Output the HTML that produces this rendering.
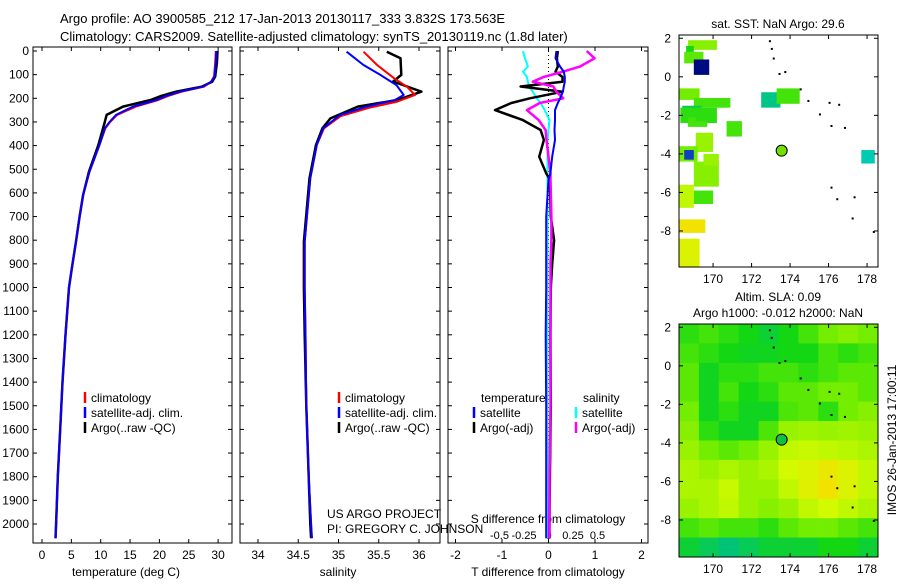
<!DOCTYPE html>
<html><head><meta charset="utf-8"><style>
body{margin:0;background:#fff;font-family:"Liberation Sans",sans-serif;}
svg text{font-family:"Liberation Sans",sans-serif;font-size:12px;fill:#000;}
</style></head><body>
<svg id="c" width="900" height="580" xmlns="http://www.w3.org/2000/svg">
<text x="60" y="23" style="font-size:13px">Argo profile: AO 3900585_212 17-Jan-2013 20130117_333 3.832S 173.563E</text>
<text x="60" y="41" style="font-size:13px">Climatology: CARS2009. Satellite-adjusted climatology: synTS_20130119.nc (1.8d later)</text>
<g id="g"></g>
</svg>
<script>
// ---------- data ----------
const depthT = [0,50,108,130,151,172,190,207,235,270,300,327,397,510,609,700,806,900,1000,1200,1400,1600,1800,2000,2060];
const tempClim = [29.6,29.5,29.3,28.8,27.6,23.8,21.5,19.8,16.0,12.8,11.6,10.8,9.8,8.1,7.0,6.4,5.8,5.2,4.6,4,3.5,3.1,2.7,2.4,2.3];
const tempSat  = [29.7,29.6,29.4,28.8,27.4,23.5,21.2,19.5,15.5,12.6,11.5,10.7,9.8,8.1,7.0,6.4,5.8,5.2,4.6,4,3.5,3.1,2.7,2.4,2.3];
const tempArgo = [29.9,29.8,29.5,29.0,27.2,22.8,20.3,18.5,13.8,11.0,10.7,10.4,9.6,8.0,7.0,6.4,5.8,5.2,4.6,4,3.5,3.1,2.7,2.4,2.3];
const depthSsat = [3,59,101,144,186,207,235,270,327,397,538,806,1000,1200,1500,1800,2000,2060];
const salSat  = [35.10,35.31,35.52,35.72,35.81,35.70,35.35,35.02,34.81,34.73,34.65,34.58,34.58,34.59,34.6,34.63,34.66,34.67];
const depthSclim = [3,59,115,151,186,214,240,275,327,397,538,806,1000,1200,1500,1800,2000,2060];
const salClim = [35.31,35.48,35.69,35.85,35.95,35.73,35.38,35.03,34.82,34.73,34.65,34.58,34.58,34.59,34.6,34.63,34.66,34.67];
const depthSargo = [3,31,101,129,172,207,235,285,327,397,538,806,1000,1200,1500,1800,2000,2060];
const salArgo = [35.6,35.77,35.78,35.68,36.03,35.73,35.24,34.9,34.8,34.72,34.64,34.57,34.57,34.58,34.6,34.63,34.65,34.66];
const depthD = [0,31,66,87,110,130,150,172,200,220,250,292,334,376,447,517,545,700,800,900,1000,1200,1500,1800,2000,2060];
const dTsat  = [0.17,0.15,0.25,0.33,0.35,0.35,0.33,0.31,0.25,0.2,0.14,0.14,0.13,0.14,0.08,0.04,0.0,-0.05,-0.05,-0.05,-0.05,-0.06,-0.05,-0.05,-0.05,-0.05];
const dTargo = [0.2,0.18,0.2,0.15,0.3,0.3,-0.6,0.3,-0.4,-0.8,-1.15,-0.55,-0.17,-0.1,-0.2,-0.05,0.03,0.05,0.12,0.08,0.05,0.04,0.05,0.03,0.02,0.02];
const dSsat  = [-0.26,-0.24,-0.21,-0.26,-0.22,-0.21,-0.2,-0.16,-0.12,-0.08,-0.04,0.01,0.0,-0.01,-0.01,-0.01,-0.01,-0.01,-0.01,-0.01,-0.01,-0.01,-0.01,-0.01,-0.01,-0.01];
const dSargo = [0.39,0.47,0.32,0.15,-0.05,-0.16,0.05,0.08,0.15,-0.09,-0.22,-0.1,-0.03,-0.02,0.0,0.02,0.02,0.03,0.03,0.02,0.02,0.02,0.02,0.01,0.01,0.01];
const depthTicks = [0,100,200,300,400,500,600,700,800,900,1000,1100,1200,1300,1400,1500,1600,1700,1800,1900,2000];
const tempTicks = [0,5,10,15,20,25,30];
const salTicks = [34,34.5,35,35.5,36];
const salTickLabels = ["34","34.5","35","35.5","36"];
const tdTicks = [-2,-1,0,1,2];
const sdTicks = [-0.5,-0.25,0,0.25,0.5];
const lonTicks = [170,172,174,176,178];
const latTicks = [2,0,-2,-4,-6,-8];
const argoLon = 173.563, argoLat = -3.832;
const slaGrid = [
[0.35,0.4,0.35,0.3,0.25,0.3,0.4,0.5,0.55,0.5],
[0.4,0.35,0.3,0.28,0.28,0.3,0.3,0.4,0.35,0.4],
[0.45,0.28,0.35,0.35,0.4,0.4,0.35,0.4,0.45,0.45],
[0.45,0.28,0.4,0.3,0.35,0.45,0.45,0.5,0.5,0.45],
[0.5,0.28,0.35,0.28,0.28,0.42,0.45,0.35,0.5,0.55],
[0.55,0.35,0.28,0.28,0.42,0.6,0.62,0.6,0.62,0.6],
[0.6,0.5,0.45,0.5,0.6,0.7,0.72,0.7,0.68,0.65],
[0.65,0.6,0.65,0.6,0.65,0.75,0.8,0.88,0.8,0.7],
[0.65,0.65,0.72,0.6,0.6,0.7,0.82,0.92,0.8,0.7],
[0.6,0.65,0.7,0.6,0.55,0.6,0.7,0.75,0.7,0.65],
[0.4,0.45,0.4,0.4,0.35,0.45,0.5,0.5,0.45,0.4],
[0.25,0.2,0.15,0.2,0.25,0.25,0.25,0.3,0.3,0.25]];
const sstLon = [168.7,168.6,168.5,169.0,168.2,169.0,168.4,170.2,168.3,168.7,169.1,170.7,169.1,168.2,168.5,169.0,169.5,168.2,169.0,168.2,168.2,172.5,173.3,177.7];
const sstLat = [1.9,1.6,1.3,0.9,-0.6,-1.1,-1.5,-1.1,-1.6,-2.1,-2.0,-2.3,-2.9,-3.6,-3.8,-4.4,-4.0,-5.6,-5.9,-7.4,-8.4,-0.8,-0.6,-3.8];
const sstW = [1.5,0.4,1.0,0.8,1.1,1.7,1.0,0.7,1.9,1.0,0.9,0.8,0.9,1.0,0.5,1.3,0.8,0.8,1.0,1.4,1.1,1.0,1.2,0.7];
const sstH = [0.5,0.5,0.6,0.8,0.6,0.5,0.5,0.5,0.8,0.5,0.3,0.8,1.0,0.8,0.5,1.3,0.6,1.2,0.7,0.7,1.5,0.8,0.8,0.7];
const sstVal = [0.55,0.3,0.45,-1,0.5,0.4,0.2,0.4,0.35,0.4,0.35,0.4,0.6,0.5,-0.9,0.55,0.6,0.7,0.4,0.92,0.8,0.12,0.4,0.05];
const islandLon = [172.9,173.0,173.1,173.4,173.7,174.5,174.9,175.5,176.0,176.5,176.1,176.8,176.1,176.4,177.3,177.2,178.3];
const islandLat = [1.9,1.5,1.0,0.2,0.3,-0.6,-1.2,-1.9,-1.3,-1.4,-2.5,-2.6,-5.7,-6.3,-6.2,-7.3,-8.0];

// ---------- helpers ----------
const NS="http://www.w3.org/2000/svg", G=document.getElementById('g');
function el(t,a,p){const e=document.createElementNS(NS,t);for(const k in a)e.setAttribute(k,a[k]);(p||G).appendChild(e);return e;}
function txt(x,y,s,anchor,p){const e=el('text',{x:x,y:y,'text-anchor':anchor||'start'},p);e.textContent=s;return e;}
const PT=47,PB=543,yD=d=>51+d*0.2365;
function cmap(v){
  if(v<0) return v<-0.95?'#000a80':'#1040c0';
  const st=[[0,[0,205,205]],[0.15,[0,195,120]],[0.3,[20,215,20]],[0.5,[115,238,0]],[0.75,[210,250,0]],[1,[255,215,0]]];
  for(let i=1;i<st.length;i++){if(v<=st[i][0]){const a=st[i-1],b=st[i],f=(v-a[0])/(b[0]-a[0]);return 'rgb('+a[1].map((c,j)=>Math.round(c+(b[1][j]-c)*f)).join(',')+')';}}
  return 'rgb(255,215,0)';
}
function panel(x0,x1,name){
  const r=el('rect',{x:x0,y:PT,width:x1-x0,height:PB-PT,fill:'none',stroke:'#000','stroke-width':1});
  
  
  depthTicks.forEach(d=>{el('line',{x1:x0,x2:x0+4,y1:yD(d),y2:yD(d),stroke:'#000'});el('line',{x1:x1,x2:x1-4,y1:yD(d),y2:yD(d),stroke:'#000'});});
}
function xticks(vals,f,labels,ly){vals.forEach((v,i)=>{const x=f(v);el('line',{x1:x,x2:x,y1:PB,y2:PB-4,stroke:'#000'});el('line',{x1:x,x2:x,y1:PT,y2:PT+4,stroke:'#000'});if(labels){const t=txt(x,ly,labels[i],'middle');}});}
function line(xs,ds,fx,col,w,name){
  const d=xs.map((v,i)=>(i?'L':'M')+fx(v).toFixed(1)+','+yD(ds[i]).toFixed(1)).join('');
  const p=el('path',{d:d,fill:'none',stroke:col,'stroke-width':w,'stroke-linejoin':'round'});
  
  
}
function legendEntry(x,y,col,label){
  const g=el('g',{});
  
  
  el('line',{x1:x,x2:x,y1:y-10,y2:y+1,stroke:col,'stroke-width':2.5},g);
  txt(x+6,y,label,'start',g);
}

// ---------- panel 1: temperature ----------
const fT=v=>42+v*5.87;
panel(33,232,'temperature-panel');
depthTicks.forEach(d=>{const t=txt(29,yD(d)+4,String(d),'end');});
xticks(tempTicks,fT,tempTicks.map(String),559);
txt(126,576,'temperature (deg C)','middle');
line(tempArgo,depthT,fT,'#000',2.5,'temp-argo-line');
line(tempClim,depthT,fT,'#f00',2,'temp-climatology-line');
line(tempSat,depthT,fT,'#00f',2,'temp-satellite-line');
legendEntry(85,402,'#f00','climatology');
legendEntry(85,417,'#00f','satellite-adj. clim.');
legendEntry(85,432,'#000','Argo(..raw -QC)');

// ---------- panel 2: salinity ----------
const fS=v=>258+(v-34)*80.5;
panel(240,440,'salinity-panel');
xticks(salTicks,fS,salTickLabels,559);
txt(338,576,'salinity','middle');
line(salArgo,depthSargo,fS,'#000',2.5,'sal-argo-line');
line(salClim,depthSclim,fS,'#f00',2,'sal-climatology-line');
line(salSat,depthSsat,fS,'#00f',2,'sal-satellite-line');
legendEntry(339,402,'#f00','climatology');
legendEntry(339,417,'#00f','satellite-adj. clim.');
legendEntry(339,432,'#000','Argo(..raw -QC)');
txt(327,518,'US ARGO PROJECT');
txt(327,533,'PI: GREGORY C. JOHNSON');

// ---------- panel 3: differences ----------
const fTd=v=>548.5+v*46.5, fSd=v=>548.5+v*98;
panel(448,648,'difference-panel');
el('line',{x1:548.5,x2:548.5,y1:PT,y2:PB,stroke:'#000','stroke-dasharray':'1,3'});
xticks(tdTicks,fTd,tdTicks.map(String),559);
sdTicks.forEach(v=>{const t=txt(fSd(v),539,String(v),'middle');t.setAttribute('style','font-size:11px');});
txt(548,523,'S difference from climatology','middle');
txt(548,576,'T difference from climatology','middle');
line(dSsat,depthD,fSd,'#0ff',2,'s-diff-satellite-line');
line(dTargo,depthD,fTd,'#000',2.5,'t-diff-argo-line');
line(dSargo,depthD,fSd,'#f0f',2.5,'s-diff-argo-line');
line(dTsat,depthD,fTd,'#00f',2,'t-diff-satellite-line');
txt(481,402,'temperature');
txt(583,402,'salinity');
legendEntry(474,417,'#00f','satellite');
legendEntry(474,432,'#000','Argo(-adj)');
legendEntry(576,417,'#0ff','satellite');
legendEntry(576,432,'#f0f','Argo(-adj)');

// ---------- maps ----------
function map(y0,y1,name){
  const x0=679,x1=878;
  const fx=l=>x0+(l-168.23)*19.25, fy=la=>y0+(2.17-la)*19.27;
  const g=el('g',{});
  
  
  return {x0,x1,y0,y1,fx,fy,g};
}
function mapFrame(m){
  el('rect',{x:m.x0,y:m.y0,width:m.x1-m.x0,height:m.y1-m.y0,fill:'none',stroke:'#000'},m.g);
  lonTicks.forEach(l=>{const x=m.fx(l);el('line',{x1:x,x2:x,y1:m.y1,y2:m.y1-4,stroke:'#000'},m.g);el('line',{x1:x,x2:x,y1:m.y0,y2:m.y0+4,stroke:'#000'},m.g);txt(x,m.y1+16,String(l),'middle',m.g);});
  latTicks.forEach(l=>{const y=m.fy(l);el('line',{x1:m.x0,x2:m.x0+4,y1:y,y2:y,stroke:'#000'},m.g);el('line',{x1:m.x1,x2:m.x1-4,y1:y,y2:y,stroke:'#000'},m.g);txt(m.x0-8,y+4,String(l),'end',m.g);});
  islandLon.forEach((l,i)=>el('rect',{x:m.fx(l),y:m.fy(islandLat[i]),width:2,height:2,fill:'#000'},m.g));
}
const m1=map(35,267,'sst-map');
sstLon.forEach((l,i)=>{
  const x=Math.max(m1.x0,m1.fx(l)), xe=m1.fx(l+sstW[i]);
  const r=el('rect',{x:x,y:m1.fy(sstLat[i]),width:xe-x,height:sstH[i]*19.27,fill:cmap(sstVal[i])},m1.g);
  
  
});
mapFrame(m1);
el('circle',{cx:m1.fx(argoLon),cy:m1.fy(argoLat),r:5.5,fill:'#70e000',stroke:'#000'},m1.g);
txt(778,28,'sat. SST: NaN Argo: 29.6','middle');
const m2=map(324,557,'sla-map');
const cw=(m2.x1-m2.x0)/slaGrid[0].length, ch=(m2.y1-m2.y0)/slaGrid.length;
slaGrid.forEach((row,j)=>row.forEach((v,i)=>{
  const r=el('rect',{x:m2.x0+i*cw,y:m2.y0+j*ch,width:cw+0.5,height:ch+0.5,fill:cmap(v)},m2.g);
  
  
}));
mapFrame(m2);
el('circle',{cx:m2.fx(argoLon),cy:m2.fy(argoLat),r:5.5,fill:'#10c040',stroke:'#000'},m2.g);
txt(778,301,'Altim. SLA: 0.09','middle');
txt(778,317,'Argo h1000: -0.012 h2000: NaN','middle');
const ts=txt(0,0,'IMOS 26-Jan-2013 17:00:11','middle');
ts.setAttribute('transform','translate(896,440) rotate(-90)');


</script>
</body></html>
